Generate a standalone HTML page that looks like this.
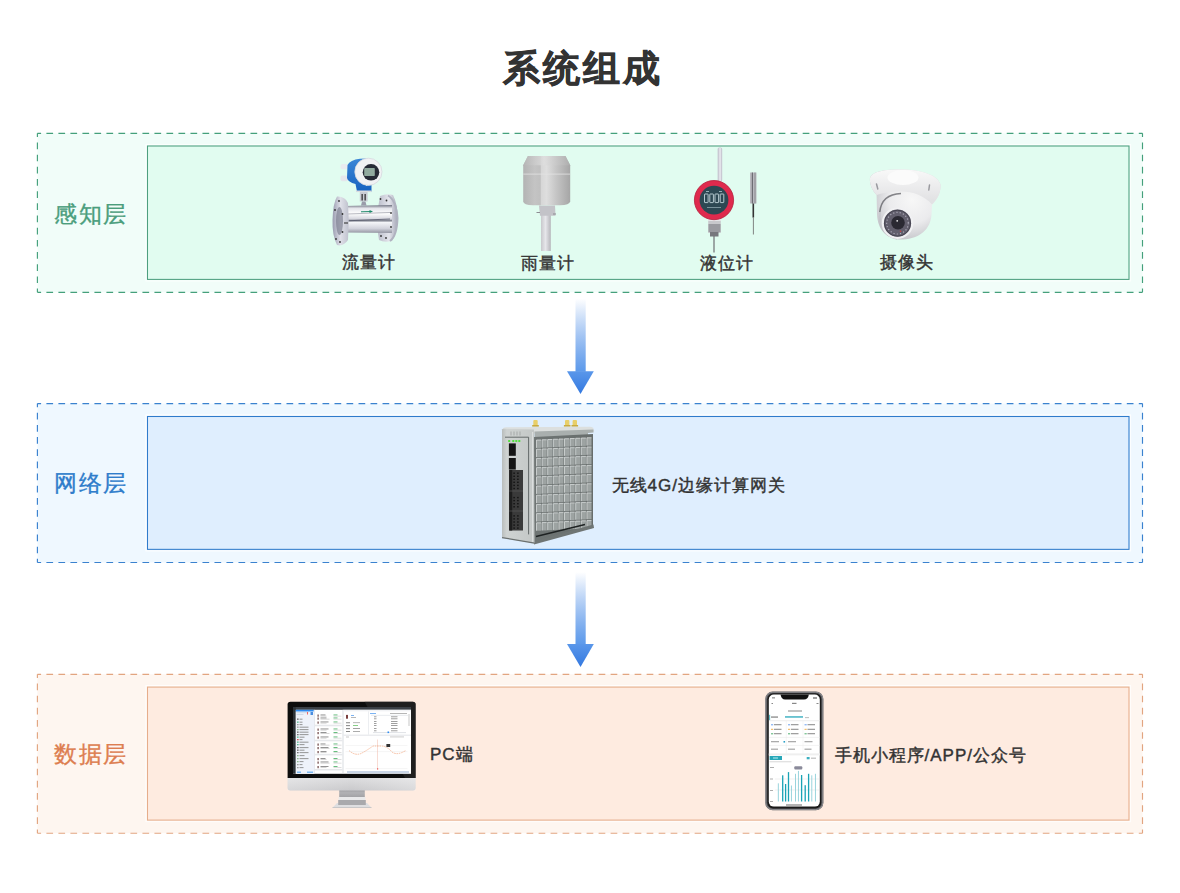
<!DOCTYPE html>
<html><head><meta charset="utf-8"><style>
html,body{margin:0;padding:0;background:#fff;}
body{width:1180px;height:893px;position:relative;overflow:hidden;font-family:"Liberation Sans",sans-serif;}
.t{position:absolute;white-space:nowrap;line-height:1;}
svg.bg{position:absolute;left:0;top:0;}
.lab{font-size:22.5px;letter-spacing:1.5px;}
.it{font-size:17px;letter-spacing:1px;color:#333;-webkit-text-stroke:0.42px #333;}
</style></head><body>
<svg class="bg" width="1180" height="893" viewBox="0 0 1180 893">
<rect x="37.4" y="133.3" width="1105.10" height="159.00" fill="#f1fdf9"/><path d="M37.40 133.30L41.10 133.30M46.40 133.30L53.10 133.30M58.41 133.30L65.11 133.30M70.41 133.30L77.11 133.30M82.42 133.30L89.12 133.30M94.42 133.30L101.12 133.30M106.43 133.30L113.13 133.30M118.43 133.30L125.13 133.30M130.43 133.30L137.13 133.30M142.44 133.30L149.14 133.30M154.44 133.30L161.14 133.30M166.45 133.30L173.15 133.30M178.45 133.30L185.15 133.30M190.46 133.30L197.16 133.30M202.46 133.30L209.16 133.30M214.47 133.30L221.17 133.30M226.47 133.30L233.17 133.30M238.47 133.30L245.17 133.30M250.48 133.30L257.18 133.30M262.48 133.30L269.18 133.30M274.49 133.30L281.19 133.30M286.49 133.30L293.19 133.30M298.50 133.30L305.20 133.30M310.50 133.30L317.20 133.30M322.50 133.30L329.20 133.30M334.51 133.30L341.21 133.30M346.51 133.30L353.21 133.30M358.52 133.30L365.22 133.30M370.52 133.30L377.22 133.30M382.53 133.30L389.23 133.30M394.53 133.30L401.23 133.30M406.53 133.30L413.23 133.30M418.54 133.30L425.24 133.30M430.54 133.30L437.24 133.30M442.55 133.30L449.25 133.30M454.55 133.30L461.25 133.30M466.56 133.30L473.26 133.30M478.56 133.30L485.26 133.30M490.57 133.30L497.27 133.30M502.57 133.30L509.27 133.30M514.57 133.30L521.27 133.30M526.58 133.30L533.28 133.30M538.58 133.30L545.28 133.30M550.59 133.30L557.29 133.30M562.59 133.30L569.29 133.30M574.60 133.30L581.30 133.30M586.60 133.30L593.30 133.30M598.60 133.30L605.30 133.30M610.61 133.30L617.31 133.30M622.61 133.30L629.31 133.30M634.62 133.30L641.32 133.30M646.62 133.30L653.32 133.30M658.63 133.30L665.33 133.30M670.63 133.30L677.33 133.30M682.63 133.30L689.33 133.30M694.64 133.30L701.34 133.30M706.64 133.30L713.34 133.30M718.65 133.30L725.35 133.30M730.65 133.30L737.35 133.30M742.66 133.30L749.36 133.30M754.66 133.30L761.36 133.30M766.67 133.30L773.37 133.30M778.67 133.30L785.37 133.30M790.67 133.30L797.37 133.30M802.68 133.30L809.38 133.30M814.68 133.30L821.38 133.30M826.69 133.30L833.39 133.30M838.69 133.30L845.39 133.30M850.70 133.30L857.40 133.30M862.70 133.30L869.40 133.30M874.70 133.30L881.40 133.30M886.71 133.30L893.41 133.30M898.71 133.30L905.41 133.30M910.72 133.30L917.42 133.30M922.72 133.30L929.42 133.30M934.73 133.30L941.43 133.30M946.73 133.30L953.43 133.30M958.73 133.30L965.43 133.30M970.74 133.30L977.44 133.30M982.74 133.30L989.44 133.30M994.75 133.30L1001.45 133.30M1006.75 133.30L1013.45 133.30M1018.76 133.30L1025.46 133.30M1030.76 133.30L1037.46 133.30M1042.77 133.30L1049.47 133.30M1054.77 133.30L1061.47 133.30M1066.77 133.30L1073.47 133.30M1078.78 133.30L1085.48 133.30M1090.78 133.30L1097.48 133.30M1102.79 133.30L1109.49 133.30M1114.79 133.30L1121.49 133.30M1126.80 133.30L1133.50 133.30M1138.80 133.30L1142.50 133.30M37.40 292.30L41.10 292.30M46.40 292.30L53.10 292.30M58.41 292.30L65.11 292.30M70.41 292.30L77.11 292.30M82.42 292.30L89.12 292.30M94.42 292.30L101.12 292.30M106.43 292.30L113.13 292.30M118.43 292.30L125.13 292.30M130.43 292.30L137.13 292.30M142.44 292.30L149.14 292.30M154.44 292.30L161.14 292.30M166.45 292.30L173.15 292.30M178.45 292.30L185.15 292.30M190.46 292.30L197.16 292.30M202.46 292.30L209.16 292.30M214.47 292.30L221.17 292.30M226.47 292.30L233.17 292.30M238.47 292.30L245.17 292.30M250.48 292.30L257.18 292.30M262.48 292.30L269.18 292.30M274.49 292.30L281.19 292.30M286.49 292.30L293.19 292.30M298.50 292.30L305.20 292.30M310.50 292.30L317.20 292.30M322.50 292.30L329.20 292.30M334.51 292.30L341.21 292.30M346.51 292.30L353.21 292.30M358.52 292.30L365.22 292.30M370.52 292.30L377.22 292.30M382.53 292.30L389.23 292.30M394.53 292.30L401.23 292.30M406.53 292.30L413.23 292.30M418.54 292.30L425.24 292.30M430.54 292.30L437.24 292.30M442.55 292.30L449.25 292.30M454.55 292.30L461.25 292.30M466.56 292.30L473.26 292.30M478.56 292.30L485.26 292.30M490.57 292.30L497.27 292.30M502.57 292.30L509.27 292.30M514.57 292.30L521.27 292.30M526.58 292.30L533.28 292.30M538.58 292.30L545.28 292.30M550.59 292.30L557.29 292.30M562.59 292.30L569.29 292.30M574.60 292.30L581.30 292.30M586.60 292.30L593.30 292.30M598.60 292.30L605.30 292.30M610.61 292.30L617.31 292.30M622.61 292.30L629.31 292.30M634.62 292.30L641.32 292.30M646.62 292.30L653.32 292.30M658.63 292.30L665.33 292.30M670.63 292.30L677.33 292.30M682.63 292.30L689.33 292.30M694.64 292.30L701.34 292.30M706.64 292.30L713.34 292.30M718.65 292.30L725.35 292.30M730.65 292.30L737.35 292.30M742.66 292.30L749.36 292.30M754.66 292.30L761.36 292.30M766.67 292.30L773.37 292.30M778.67 292.30L785.37 292.30M790.67 292.30L797.37 292.30M802.68 292.30L809.38 292.30M814.68 292.30L821.38 292.30M826.69 292.30L833.39 292.30M838.69 292.30L845.39 292.30M850.70 292.30L857.40 292.30M862.70 292.30L869.40 292.30M874.70 292.30L881.40 292.30M886.71 292.30L893.41 292.30M898.71 292.30L905.41 292.30M910.72 292.30L917.42 292.30M922.72 292.30L929.42 292.30M934.73 292.30L941.43 292.30M946.73 292.30L953.43 292.30M958.73 292.30L965.43 292.30M970.74 292.30L977.44 292.30M982.74 292.30L989.44 292.30M994.75 292.30L1001.45 292.30M1006.75 292.30L1013.45 292.30M1018.76 292.30L1025.46 292.30M1030.76 292.30L1037.46 292.30M1042.77 292.30L1049.47 292.30M1054.77 292.30L1061.47 292.30M1066.77 292.30L1073.47 292.30M1078.78 292.30L1085.48 292.30M1090.78 292.30L1097.48 292.30M1102.79 292.30L1109.49 292.30M1114.79 292.30L1121.49 292.30M1126.80 292.30L1133.50 292.30M1138.80 292.30L1142.50 292.30M37.40 133.30L37.40 137.00M37.40 142.48L37.40 149.18M37.40 154.65L37.40 161.35M37.40 166.83L37.40 173.53M37.40 179.01L37.40 185.71M37.40 191.18L37.40 197.88M37.40 203.36L37.40 210.06M37.40 215.54L37.40 222.24M37.40 227.72L37.40 234.42M37.40 239.89L37.40 246.59M37.40 252.07L37.40 258.77M37.40 264.25L37.40 270.95M37.40 276.42L37.40 283.12M37.40 288.60L37.40 292.30M1142.50 133.30L1142.50 137.00M1142.50 142.48L1142.50 149.18M1142.50 154.65L1142.50 161.35M1142.50 166.83L1142.50 173.53M1142.50 179.01L1142.50 185.71M1142.50 191.18L1142.50 197.88M1142.50 203.36L1142.50 210.06M1142.50 215.54L1142.50 222.24M1142.50 227.72L1142.50 234.42M1142.50 239.89L1142.50 246.59M1142.50 252.07L1142.50 258.77M1142.50 264.25L1142.50 270.95M1142.50 276.42L1142.50 283.12M1142.50 288.60L1142.50 292.30" stroke="#44a07b" stroke-width="1.15" fill="none"/><rect x="145.9" y="144.4" width="984.70" height="136.60" fill="none" stroke="#ffffff" stroke-opacity="0.75" stroke-width="1"/><rect x="147.5" y="146.0" width="981.50" height="133.40" fill="#e1fcf0" stroke="#4d9f7f" stroke-width="1.05"/><rect x="37.4" y="403.6" width="1105.10" height="158.90" fill="#eff8ff"/><path d="M37.40 403.60L41.10 403.60M46.40 403.60L53.10 403.60M58.41 403.60L65.11 403.60M70.41 403.60L77.11 403.60M82.42 403.60L89.12 403.60M94.42 403.60L101.12 403.60M106.43 403.60L113.13 403.60M118.43 403.60L125.13 403.60M130.43 403.60L137.13 403.60M142.44 403.60L149.14 403.60M154.44 403.60L161.14 403.60M166.45 403.60L173.15 403.60M178.45 403.60L185.15 403.60M190.46 403.60L197.16 403.60M202.46 403.60L209.16 403.60M214.47 403.60L221.17 403.60M226.47 403.60L233.17 403.60M238.47 403.60L245.17 403.60M250.48 403.60L257.18 403.60M262.48 403.60L269.18 403.60M274.49 403.60L281.19 403.60M286.49 403.60L293.19 403.60M298.50 403.60L305.20 403.60M310.50 403.60L317.20 403.60M322.50 403.60L329.20 403.60M334.51 403.60L341.21 403.60M346.51 403.60L353.21 403.60M358.52 403.60L365.22 403.60M370.52 403.60L377.22 403.60M382.53 403.60L389.23 403.60M394.53 403.60L401.23 403.60M406.53 403.60L413.23 403.60M418.54 403.60L425.24 403.60M430.54 403.60L437.24 403.60M442.55 403.60L449.25 403.60M454.55 403.60L461.25 403.60M466.56 403.60L473.26 403.60M478.56 403.60L485.26 403.60M490.57 403.60L497.27 403.60M502.57 403.60L509.27 403.60M514.57 403.60L521.27 403.60M526.58 403.60L533.28 403.60M538.58 403.60L545.28 403.60M550.59 403.60L557.29 403.60M562.59 403.60L569.29 403.60M574.60 403.60L581.30 403.60M586.60 403.60L593.30 403.60M598.60 403.60L605.30 403.60M610.61 403.60L617.31 403.60M622.61 403.60L629.31 403.60M634.62 403.60L641.32 403.60M646.62 403.60L653.32 403.60M658.63 403.60L665.33 403.60M670.63 403.60L677.33 403.60M682.63 403.60L689.33 403.60M694.64 403.60L701.34 403.60M706.64 403.60L713.34 403.60M718.65 403.60L725.35 403.60M730.65 403.60L737.35 403.60M742.66 403.60L749.36 403.60M754.66 403.60L761.36 403.60M766.67 403.60L773.37 403.60M778.67 403.60L785.37 403.60M790.67 403.60L797.37 403.60M802.68 403.60L809.38 403.60M814.68 403.60L821.38 403.60M826.69 403.60L833.39 403.60M838.69 403.60L845.39 403.60M850.70 403.60L857.40 403.60M862.70 403.60L869.40 403.60M874.70 403.60L881.40 403.60M886.71 403.60L893.41 403.60M898.71 403.60L905.41 403.60M910.72 403.60L917.42 403.60M922.72 403.60L929.42 403.60M934.73 403.60L941.43 403.60M946.73 403.60L953.43 403.60M958.73 403.60L965.43 403.60M970.74 403.60L977.44 403.60M982.74 403.60L989.44 403.60M994.75 403.60L1001.45 403.60M1006.75 403.60L1013.45 403.60M1018.76 403.60L1025.46 403.60M1030.76 403.60L1037.46 403.60M1042.77 403.60L1049.47 403.60M1054.77 403.60L1061.47 403.60M1066.77 403.60L1073.47 403.60M1078.78 403.60L1085.48 403.60M1090.78 403.60L1097.48 403.60M1102.79 403.60L1109.49 403.60M1114.79 403.60L1121.49 403.60M1126.80 403.60L1133.50 403.60M1138.80 403.60L1142.50 403.60M37.40 562.50L41.10 562.50M46.40 562.50L53.10 562.50M58.41 562.50L65.11 562.50M70.41 562.50L77.11 562.50M82.42 562.50L89.12 562.50M94.42 562.50L101.12 562.50M106.43 562.50L113.13 562.50M118.43 562.50L125.13 562.50M130.43 562.50L137.13 562.50M142.44 562.50L149.14 562.50M154.44 562.50L161.14 562.50M166.45 562.50L173.15 562.50M178.45 562.50L185.15 562.50M190.46 562.50L197.16 562.50M202.46 562.50L209.16 562.50M214.47 562.50L221.17 562.50M226.47 562.50L233.17 562.50M238.47 562.50L245.17 562.50M250.48 562.50L257.18 562.50M262.48 562.50L269.18 562.50M274.49 562.50L281.19 562.50M286.49 562.50L293.19 562.50M298.50 562.50L305.20 562.50M310.50 562.50L317.20 562.50M322.50 562.50L329.20 562.50M334.51 562.50L341.21 562.50M346.51 562.50L353.21 562.50M358.52 562.50L365.22 562.50M370.52 562.50L377.22 562.50M382.53 562.50L389.23 562.50M394.53 562.50L401.23 562.50M406.53 562.50L413.23 562.50M418.54 562.50L425.24 562.50M430.54 562.50L437.24 562.50M442.55 562.50L449.25 562.50M454.55 562.50L461.25 562.50M466.56 562.50L473.26 562.50M478.56 562.50L485.26 562.50M490.57 562.50L497.27 562.50M502.57 562.50L509.27 562.50M514.57 562.50L521.27 562.50M526.58 562.50L533.28 562.50M538.58 562.50L545.28 562.50M550.59 562.50L557.29 562.50M562.59 562.50L569.29 562.50M574.60 562.50L581.30 562.50M586.60 562.50L593.30 562.50M598.60 562.50L605.30 562.50M610.61 562.50L617.31 562.50M622.61 562.50L629.31 562.50M634.62 562.50L641.32 562.50M646.62 562.50L653.32 562.50M658.63 562.50L665.33 562.50M670.63 562.50L677.33 562.50M682.63 562.50L689.33 562.50M694.64 562.50L701.34 562.50M706.64 562.50L713.34 562.50M718.65 562.50L725.35 562.50M730.65 562.50L737.35 562.50M742.66 562.50L749.36 562.50M754.66 562.50L761.36 562.50M766.67 562.50L773.37 562.50M778.67 562.50L785.37 562.50M790.67 562.50L797.37 562.50M802.68 562.50L809.38 562.50M814.68 562.50L821.38 562.50M826.69 562.50L833.39 562.50M838.69 562.50L845.39 562.50M850.70 562.50L857.40 562.50M862.70 562.50L869.40 562.50M874.70 562.50L881.40 562.50M886.71 562.50L893.41 562.50M898.71 562.50L905.41 562.50M910.72 562.50L917.42 562.50M922.72 562.50L929.42 562.50M934.73 562.50L941.43 562.50M946.73 562.50L953.43 562.50M958.73 562.50L965.43 562.50M970.74 562.50L977.44 562.50M982.74 562.50L989.44 562.50M994.75 562.50L1001.45 562.50M1006.75 562.50L1013.45 562.50M1018.76 562.50L1025.46 562.50M1030.76 562.50L1037.46 562.50M1042.77 562.50L1049.47 562.50M1054.77 562.50L1061.47 562.50M1066.77 562.50L1073.47 562.50M1078.78 562.50L1085.48 562.50M1090.78 562.50L1097.48 562.50M1102.79 562.50L1109.49 562.50M1114.79 562.50L1121.49 562.50M1126.80 562.50L1133.50 562.50M1138.80 562.50L1142.50 562.50M37.40 403.60L37.40 407.30M37.40 412.77L37.40 419.47M37.40 424.94L37.40 431.64M37.40 437.11L37.40 443.81M37.40 449.28L37.40 455.98M37.40 461.45L37.40 468.15M37.40 473.62L37.40 480.32M37.40 485.78L37.40 492.48M37.40 497.95L37.40 504.65M37.40 510.12L37.40 516.82M37.40 522.29L37.40 528.99M37.40 534.46L37.40 541.16M37.40 546.63L37.40 553.33M37.40 558.80L37.40 562.50M1142.50 403.60L1142.50 407.30M1142.50 412.77L1142.50 419.47M1142.50 424.94L1142.50 431.64M1142.50 437.11L1142.50 443.81M1142.50 449.28L1142.50 455.98M1142.50 461.45L1142.50 468.15M1142.50 473.62L1142.50 480.32M1142.50 485.78L1142.50 492.48M1142.50 497.95L1142.50 504.65M1142.50 510.12L1142.50 516.82M1142.50 522.29L1142.50 528.99M1142.50 534.46L1142.50 541.16M1142.50 546.63L1142.50 553.33M1142.50 558.80L1142.50 562.50" stroke="#3a82cf" stroke-width="1.15" fill="none"/><rect x="145.9" y="414.9" width="984.70" height="136.05" fill="none" stroke="#ffffff" stroke-opacity="0.9" stroke-width="1"/><rect x="147.5" y="416.5" width="981.50" height="132.85" fill="#dfeefe" stroke="#2f7bcb" stroke-width="1.05"/><rect x="37.4" y="674.3" width="1105.10" height="158.90" fill="#fef6f0"/><path d="M37.40 674.30L41.10 674.30M46.40 674.30L53.10 674.30M58.41 674.30L65.11 674.30M70.41 674.30L77.11 674.30M82.42 674.30L89.12 674.30M94.42 674.30L101.12 674.30M106.43 674.30L113.13 674.30M118.43 674.30L125.13 674.30M130.43 674.30L137.13 674.30M142.44 674.30L149.14 674.30M154.44 674.30L161.14 674.30M166.45 674.30L173.15 674.30M178.45 674.30L185.15 674.30M190.46 674.30L197.16 674.30M202.46 674.30L209.16 674.30M214.47 674.30L221.17 674.30M226.47 674.30L233.17 674.30M238.47 674.30L245.17 674.30M250.48 674.30L257.18 674.30M262.48 674.30L269.18 674.30M274.49 674.30L281.19 674.30M286.49 674.30L293.19 674.30M298.50 674.30L305.20 674.30M310.50 674.30L317.20 674.30M322.50 674.30L329.20 674.30M334.51 674.30L341.21 674.30M346.51 674.30L353.21 674.30M358.52 674.30L365.22 674.30M370.52 674.30L377.22 674.30M382.53 674.30L389.23 674.30M394.53 674.30L401.23 674.30M406.53 674.30L413.23 674.30M418.54 674.30L425.24 674.30M430.54 674.30L437.24 674.30M442.55 674.30L449.25 674.30M454.55 674.30L461.25 674.30M466.56 674.30L473.26 674.30M478.56 674.30L485.26 674.30M490.57 674.30L497.27 674.30M502.57 674.30L509.27 674.30M514.57 674.30L521.27 674.30M526.58 674.30L533.28 674.30M538.58 674.30L545.28 674.30M550.59 674.30L557.29 674.30M562.59 674.30L569.29 674.30M574.60 674.30L581.30 674.30M586.60 674.30L593.30 674.30M598.60 674.30L605.30 674.30M610.61 674.30L617.31 674.30M622.61 674.30L629.31 674.30M634.62 674.30L641.32 674.30M646.62 674.30L653.32 674.30M658.63 674.30L665.33 674.30M670.63 674.30L677.33 674.30M682.63 674.30L689.33 674.30M694.64 674.30L701.34 674.30M706.64 674.30L713.34 674.30M718.65 674.30L725.35 674.30M730.65 674.30L737.35 674.30M742.66 674.30L749.36 674.30M754.66 674.30L761.36 674.30M766.67 674.30L773.37 674.30M778.67 674.30L785.37 674.30M790.67 674.30L797.37 674.30M802.68 674.30L809.38 674.30M814.68 674.30L821.38 674.30M826.69 674.30L833.39 674.30M838.69 674.30L845.39 674.30M850.70 674.30L857.40 674.30M862.70 674.30L869.40 674.30M874.70 674.30L881.40 674.30M886.71 674.30L893.41 674.30M898.71 674.30L905.41 674.30M910.72 674.30L917.42 674.30M922.72 674.30L929.42 674.30M934.73 674.30L941.43 674.30M946.73 674.30L953.43 674.30M958.73 674.30L965.43 674.30M970.74 674.30L977.44 674.30M982.74 674.30L989.44 674.30M994.75 674.30L1001.45 674.30M1006.75 674.30L1013.45 674.30M1018.76 674.30L1025.46 674.30M1030.76 674.30L1037.46 674.30M1042.77 674.30L1049.47 674.30M1054.77 674.30L1061.47 674.30M1066.77 674.30L1073.47 674.30M1078.78 674.30L1085.48 674.30M1090.78 674.30L1097.48 674.30M1102.79 674.30L1109.49 674.30M1114.79 674.30L1121.49 674.30M1126.80 674.30L1133.50 674.30M1138.80 674.30L1142.50 674.30M37.40 833.20L41.10 833.20M46.40 833.20L53.10 833.20M58.41 833.20L65.11 833.20M70.41 833.20L77.11 833.20M82.42 833.20L89.12 833.20M94.42 833.20L101.12 833.20M106.43 833.20L113.13 833.20M118.43 833.20L125.13 833.20M130.43 833.20L137.13 833.20M142.44 833.20L149.14 833.20M154.44 833.20L161.14 833.20M166.45 833.20L173.15 833.20M178.45 833.20L185.15 833.20M190.46 833.20L197.16 833.20M202.46 833.20L209.16 833.20M214.47 833.20L221.17 833.20M226.47 833.20L233.17 833.20M238.47 833.20L245.17 833.20M250.48 833.20L257.18 833.20M262.48 833.20L269.18 833.20M274.49 833.20L281.19 833.20M286.49 833.20L293.19 833.20M298.50 833.20L305.20 833.20M310.50 833.20L317.20 833.20M322.50 833.20L329.20 833.20M334.51 833.20L341.21 833.20M346.51 833.20L353.21 833.20M358.52 833.20L365.22 833.20M370.52 833.20L377.22 833.20M382.53 833.20L389.23 833.20M394.53 833.20L401.23 833.20M406.53 833.20L413.23 833.20M418.54 833.20L425.24 833.20M430.54 833.20L437.24 833.20M442.55 833.20L449.25 833.20M454.55 833.20L461.25 833.20M466.56 833.20L473.26 833.20M478.56 833.20L485.26 833.20M490.57 833.20L497.27 833.20M502.57 833.20L509.27 833.20M514.57 833.20L521.27 833.20M526.58 833.20L533.28 833.20M538.58 833.20L545.28 833.20M550.59 833.20L557.29 833.20M562.59 833.20L569.29 833.20M574.60 833.20L581.30 833.20M586.60 833.20L593.30 833.20M598.60 833.20L605.30 833.20M610.61 833.20L617.31 833.20M622.61 833.20L629.31 833.20M634.62 833.20L641.32 833.20M646.62 833.20L653.32 833.20M658.63 833.20L665.33 833.20M670.63 833.20L677.33 833.20M682.63 833.20L689.33 833.20M694.64 833.20L701.34 833.20M706.64 833.20L713.34 833.20M718.65 833.20L725.35 833.20M730.65 833.20L737.35 833.20M742.66 833.20L749.36 833.20M754.66 833.20L761.36 833.20M766.67 833.20L773.37 833.20M778.67 833.20L785.37 833.20M790.67 833.20L797.37 833.20M802.68 833.20L809.38 833.20M814.68 833.20L821.38 833.20M826.69 833.20L833.39 833.20M838.69 833.20L845.39 833.20M850.70 833.20L857.40 833.20M862.70 833.20L869.40 833.20M874.70 833.20L881.40 833.20M886.71 833.20L893.41 833.20M898.71 833.20L905.41 833.20M910.72 833.20L917.42 833.20M922.72 833.20L929.42 833.20M934.73 833.20L941.43 833.20M946.73 833.20L953.43 833.20M958.73 833.20L965.43 833.20M970.74 833.20L977.44 833.20M982.74 833.20L989.44 833.20M994.75 833.20L1001.45 833.20M1006.75 833.20L1013.45 833.20M1018.76 833.20L1025.46 833.20M1030.76 833.20L1037.46 833.20M1042.77 833.20L1049.47 833.20M1054.77 833.20L1061.47 833.20M1066.77 833.20L1073.47 833.20M1078.78 833.20L1085.48 833.20M1090.78 833.20L1097.48 833.20M1102.79 833.20L1109.49 833.20M1114.79 833.20L1121.49 833.20M1126.80 833.20L1133.50 833.20M1138.80 833.20L1142.50 833.20M37.40 674.30L37.40 678.00M37.40 683.47L37.40 690.17M37.40 695.64L37.40 702.34M37.40 707.81L37.40 714.51M37.40 719.98L37.40 726.68M37.40 732.15L37.40 738.85M37.40 744.32L37.40 751.02M37.40 756.48L37.40 763.18M37.40 768.65L37.40 775.35M37.40 780.82L37.40 787.52M37.40 792.99L37.40 799.69M37.40 805.16L37.40 811.86M37.40 817.33L37.40 824.03M37.40 829.50L37.40 833.20M1142.50 674.30L1142.50 678.00M1142.50 683.47L1142.50 690.17M1142.50 695.64L1142.50 702.34M1142.50 707.81L1142.50 714.51M1142.50 719.98L1142.50 726.68M1142.50 732.15L1142.50 738.85M1142.50 744.32L1142.50 751.02M1142.50 756.48L1142.50 763.18M1142.50 768.65L1142.50 775.35M1142.50 780.82L1142.50 787.52M1142.50 792.99L1142.50 799.69M1142.50 805.16L1142.50 811.86M1142.50 817.33L1142.50 824.03M1142.50 829.50L1142.50 833.20" stroke="#e2a580" stroke-width="1.15" fill="none"/><rect x="145.9" y="685.5" width="984.70" height="136.20" fill="none" stroke="#ffffff" stroke-opacity="0.8" stroke-width="1"/><rect x="147.5" y="687.1" width="981.50" height="133.00" fill="#feebe0" stroke="#e6ad8b" stroke-width="1.05"/><rect x="575.5" y="298.6" width="10.2" height="73.2" fill="url(#ag298)"/><path d="M567 371.3 L593.8 371.3 L580.5 394.1 Z" fill="url(#ah298)"/><defs><linearGradient id="ag298" x1="0" y1="298.6" x2="0" y2="371.3" gradientUnits="userSpaceOnUse"><stop offset="0" stop-color="#3a80e4" stop-opacity="0"/><stop offset="1" stop-color="#5d9aeb"/></linearGradient><linearGradient id="ah298" x1="0" y1="371.3" x2="0" y2="394.1" gradientUnits="userSpaceOnUse"><stop offset="0" stop-color="#5a97ea"/><stop offset="1" stop-color="#3479e0"/></linearGradient></defs><rect x="575.5" y="572.1" width="10.2" height="72.4" fill="url(#ag572)"/><path d="M567 644.0 L593.8 644.0 L580.5 667.0 Z" fill="url(#ah572)"/><defs><linearGradient id="ag572" x1="0" y1="572.1" x2="0" y2="644.0" gradientUnits="userSpaceOnUse"><stop offset="0" stop-color="#3a80e4" stop-opacity="0"/><stop offset="1" stop-color="#5d9aeb"/></linearGradient><linearGradient id="ah572" x1="0" y1="644.0" x2="0" y2="667.0" gradientUnits="userSpaceOnUse"><stop offset="0" stop-color="#5a97ea"/><stop offset="1" stop-color="#3479e0"/></linearGradient></defs>
<defs>
<linearGradient id="fmPipe" x1="0" y1="205.5" x2="0" y2="232.5" gradientUnits="userSpaceOnUse">
 <stop offset="0" stop-color="#7e818e"/><stop offset="0.1" stop-color="#e3e4ea"/><stop offset="0.3" stop-color="#ffffff"/><stop offset="0.5" stop-color="#d5d6de"/><stop offset="0.56" stop-color="#80838f"/><stop offset="0.63" stop-color="#f4f5f8"/><stop offset="0.85" stop-color="#d2d3dc"/><stop offset="1" stop-color="#9a9ca8"/>
</linearGradient>
<linearGradient id="fmFl" x1="333" y1="0" x2="348" y2="0" gradientUnits="userSpaceOnUse">
 <stop offset="0" stop-color="#9ea0b3"/><stop offset="0.5" stop-color="#dfe0e8"/><stop offset="1" stop-color="#c2c4d0"/>
</linearGradient>
<linearGradient id="fmFr" x1="377" y1="0" x2="397" y2="0" gradientUnits="userSpaceOnUse">
 <stop offset="0" stop-color="#b8bac8"/><stop offset="0.6" stop-color="#e4e5ec"/><stop offset="1" stop-color="#a9abba"/>
</linearGradient>
<linearGradient id="fmBlue" x1="0" y1="159" x2="0" y2="192" gradientUnits="userSpaceOnUse">
 <stop offset="0" stop-color="#3b86d6"/><stop offset="1" stop-color="#1662c0"/>
</linearGradient>
</defs><path d="M380 196 Q387 193 393 195 Q398 205 397.5 218 Q397 234 392 241 Q384 243 379 240 Q375 220 380 196Z" fill="url(#fmFr)"/><path d="M344 206 L392 205 L392 233 L344 232.5 Z" fill="url(#fmPipe)"/><path d="M347 220.8 L390 219" stroke="#55586a" stroke-width="1" opacity="0.8"/><path d="M347 214 L390 212.5" stroke="#6d7080" stroke-width="0.8" opacity="0.6"/><path d="M388 195.5 Q396 200 397.5 218 Q397 236 390 241" stroke="#b0b2c0" stroke-width="2" fill="none"/><circle cx="380.5" cy="199" r="0.9" fill="#333"/><circle cx="386.5" cy="200.5" r="0.9" fill="#333"/><circle cx="391" cy="213" r="0.9" fill="#333"/><circle cx="391" cy="227" r="0.9" fill="#333"/><circle cx="381" cy="236" r="0.9" fill="#333"/><circle cx="386" cy="238" r="0.9" fill="#333"/><path d="M337 196.5 Q345 196 348 203 Q349.5 221 348 240 Q343 247 337 245 Q332 235 332.5 220 Q333 203 337 196.5Z" fill="url(#fmFl)"/><ellipse cx="339.5" cy="221" rx="3.5" ry="14" fill="#7d8092" opacity="0.7"/><circle cx="339" cy="201" r="0.9" fill="#333"/><circle cx="335" cy="210" r="0.9" fill="#333"/><circle cx="342.5" cy="214" r="0.9" fill="#333"/><circle cx="342.5" cy="232" r="0.9" fill="#333"/><circle cx="336" cy="239" r="0.9" fill="#333"/><circle cx="340" cy="242" r="0.9" fill="#333"/><path d="M344 223 L348 223" stroke="#444" stroke-width="1.2"/><path d="M361 211.8 L372 211.5" stroke="#1f8a6a" stroke-width="1"/><path d="M369.5 210 L373 211.5 L369.5 213 Z" fill="#1f8a6a"/><rect x="359.8" y="191.5" width="7.8" height="10" fill="#c9cbd3"/><rect x="361.5" y="194" width="1.3" height="6.5" fill="#333"/><rect x="364.5" y="194" width="1.3" height="6.5" fill="#333"/><path d="M362 201.5 L365.5 201.5 L366.5 205.5 L361 205.5Z" fill="#9a9caa"/><rect x="340.5" y="164" width="7.5" height="5.3" rx="2" fill="#e9ebef"/><rect x="340.5" y="175.5" width="7.5" height="5.8" rx="2" fill="#e5e7eb"/><path d="M347.5 165 Q350 160 360 158.8 L366 158.5 L366 186 L371.5 183 L371.5 191.5 L357 191.5 L355.5 184 Q348 182 347 178Z" fill="url(#fmBlue)"/><rect x="356" y="190.5" width="15.5" height="1.6" fill="#d9dbe0"/><circle cx="368.4" cy="171.8" r="13.6" fill="#f1f2f4"/><circle cx="368.4" cy="171.8" r="13.6" fill="none" stroke="#d6d8de" stroke-width="0.8"/><circle cx="371" cy="172.3" r="8.3" fill="#262a36"/><rect x="364.2" y="168" width="10.6" height="8" rx="0.8" fill="#91aa9f"/><defs>
<linearGradient id="rgBody" x1="523" y1="0" x2="570" y2="0" gradientUnits="userSpaceOnUse">
 <stop offset="0" stop-color="#b3b3b3"/><stop offset="0.25" stop-color="#c4c4c4"/><stop offset="0.37" stop-color="#c0c0c0"/><stop offset="0.38" stop-color="#d6d6d6"/><stop offset="0.5" stop-color="#dedede"/><stop offset="0.7" stop-color="#c6c6c6"/><stop offset="1" stop-color="#a6a6a6"/>
</linearGradient>
<linearGradient id="rgTop" x1="523" y1="0" x2="570" y2="0" gradientUnits="userSpaceOnUse">
 <stop offset="0" stop-color="#b5b5b5"/><stop offset="0.45" stop-color="#dedede"/><stop offset="1" stop-color="#b0b0b0"/>
</linearGradient>
<linearGradient id="rgPole" x1="541" y1="0" x2="551" y2="0" gradientUnits="userSpaceOnUse">
 <stop offset="0" stop-color="#c8c8cc"/><stop offset="0.45" stop-color="#e6e6ea"/><stop offset="1" stop-color="#b4b4b9"/>
</linearGradient>
</defs><rect x="541" y="214" width="9.8" height="37" fill="url(#rgPole)"/><path d="M539 205.5 L555 205.5 L555.5 215.8 L540 215.8Z" fill="#c3c3c8"/><path d="M536.5 212.5 L540 212.5 M553 214 L556 214" stroke="#8d8d93" stroke-width="1"/><path d="M527.9 155.9 L565.5 155.9 L570.2 165.3 L570.2 201.5 Q569.5 205 560 205.3 L533 205.3 Q523.5 205 523.2 201.5 L523.2 165.3Z" fill="url(#rgBody)"/><path d="M527.9 155.9 L565.5 155.9 L570.2 165.3 L523.2 165.3Z" fill="url(#rgTop)" opacity="0.8"/><path d="M523.2 174.1 L570.2 174.1" stroke="#e3e3e3" stroke-width="0.8"/><rect x="717.6" y="147.6" width="4.6" height="34" rx="1.5" fill="#c9c9d3"/><rect x="719.3" y="148" width="1.5" height="33" fill="#e8e8ee"/><path d="M708.2 218 L720.8 218 L720.8 233 L708.2 233Z" fill="#c8c8cc"/><rect x="708" y="218" width="13" height="3" fill="#e5e5e8"/><rect x="708.5" y="224" width="12" height="8" fill="#9a9aa0"/><rect x="710" y="232" width="8.5" height="4.5" fill="#77777d"/><rect x="713.4" y="236" width="1.2" height="16.5" fill="#6f6f75"/><circle cx="714" cy="200.1" r="19.6" fill="#df2a4d"/><circle cx="714" cy="200.1" r="19.6" fill="none" stroke="#b51d3a" stroke-width="0.8"/><circle cx="714" cy="200.1" r="14.4" fill="#2d4853"/><rect x="704.5" y="194" width="3.6" height="8.6" rx="0.5" fill="none" stroke="#d5e8ee" stroke-width="0.8"/><rect x="709.8" y="194" width="3.6" height="8.6" rx="0.5" fill="none" stroke="#d5e8ee" stroke-width="0.8"/><rect x="715" y="194" width="3.6" height="8.6" rx="0.5" fill="none" stroke="#d5e8ee" stroke-width="0.8"/><rect x="720.2" y="194" width="3.6" height="8.6" rx="0.5" fill="none" stroke="#d5e8ee" stroke-width="0.8"/><rect x="706" y="191" width="3" height="1" fill="#c5dce3" opacity="0.7"/><rect x="719" y="191" width="3" height="1" fill="#c5dce3" opacity="0.7"/><rect x="707" y="207" width="14" height="1" fill="#c5dce3" opacity="0.5"/><rect x="750" y="172.5" width="6.5" height="31" fill="#b9b9bf"/><rect x="751.8" y="172.5" width="1.2" height="31" fill="#6d6d73"/><rect x="754.5" y="172.5" width="1" height="31" fill="#8b8b90"/><rect x="752.5" y="203.5" width="1.6" height="14" fill="#333"/><rect x="752.9" y="217" width="0.9" height="17.5" fill="#777"/><defs>
<radialGradient id="camBody" cx="912" cy="200" r="42" gradientUnits="userSpaceOnUse">
 <stop offset="0" stop-color="#f7f7f7"/><stop offset="0.55" stop-color="#ebebed"/><stop offset="1" stop-color="#c4c4c9"/>
</radialGradient>
<linearGradient id="camTopG" x1="0" y1="169" x2="0" y2="200" gradientUnits="userSpaceOnUse">
 <stop offset="0" stop-color="#f9f9f9"/><stop offset="1" stop-color="#e2e2e4"/>
</linearGradient>
</defs><path d="M869.9 178.4 C872 171 885 169.5 901 169.5 C921 169.5 938 175 940.5 184.5 C941.2 192 937 200 932 204.5 L931.5 214 C931 229 920 238.5 903 239.6 C887 240 877.5 230 877 214 L876.6 195 C872.5 190.5 869.6 184.5 869.9 178.4 Z" fill="url(#camBody)"/><path d="M869.9 178.4 C872 171 885 169.5 901 169.5 C921 169.5 938 175 940.5 184.5 C941.2 192 937 200 932 204.5 C925 196 913 191.5 901 191.5 C890 191.5 881 193.5 876.6 195 C872.5 190.5 869.6 184.5 869.9 178.4 Z" fill="url(#camTopG)"/><ellipse cx="903" cy="177.5" rx="15.5" ry="7.5" fill="#fbfbfb"/><path d="M876.5 184 L877.8 189 M929.5 185 L928.8 190" stroke="#9a9a9f" stroke-width="1.5" stroke-linecap="round"/><path d="M879.8 212 C881 200 889 194 901 193.5" stroke="#4a4a50" stroke-width="1.5" fill="none" opacity="0.65"/><path d="M880 212 C878.5 225 884 236 897 239" stroke="#c0c0c5" stroke-width="2" fill="none" opacity="0.5"/><circle cx="897.5" cy="223.2" r="15.8" fill="#f1f1f3"/><circle cx="897.5" cy="223.2" r="13.6" fill="#625f6d"/><circle cx="897.5" cy="223.2" r="10.8" fill="none" stroke="#b4b2c0" stroke-width="1.2" stroke-dasharray="1.1 2.2" opacity="0.9"/><circle cx="897.5" cy="223.2" r="13" fill="none" stroke="#3e3c47" stroke-width="0.8"/><circle cx="898" cy="222.8" r="6.8" fill="#2a2932"/><circle cx="897.2" cy="220.8" r="0.9" fill="#e8e8e8"/><circle cx="900.5" cy="231.3" r="0.8" fill="#d04040"/><defs>
<linearGradient id="gwFront" x1="502" y1="0" x2="534" y2="0" gradientUnits="userSpaceOnUse">
 <stop offset="0" stop-color="#b9bdbc"/><stop offset="0.15" stop-color="#cfd3d2"/><stop offset="1" stop-color="#c3c7c6"/>
</linearGradient>
<linearGradient id="gwSide" x1="534" y1="0" x2="594" y2="0" gradientUnits="userSpaceOnUse">
 <stop offset="0" stop-color="#6f7574"/><stop offset="1" stop-color="#676d6c"/>
</linearGradient>
</defs><rect x="533.3" y="420" width="4.4" height="6" rx="1" fill="#e8cf6a"/><rect x="532.2" y="425" width="6.6" height="1.6" fill="#c9ab40"/><rect x="565.0" y="420" width="4.4" height="6" rx="1" fill="#e8cf6a"/><rect x="563.9000000000001" y="425" width="6.6" height="1.6" fill="#c9ab40"/><rect x="572.5999999999999" y="420" width="4.4" height="6" rx="1" fill="#e8cf6a"/><rect x="571.5" y="425" width="6.6" height="1.6" fill="#c9ab40"/><path d="M502.5 429 Q503 427.5 506 427.3 L590 426.8 Q593.5 427 593.5 429 L593.5 431.5 L534.5 433.5 L502.5 432Z" fill="#dcdfde"/><path d="M534.5 431.5 L593.5 429.5 L593.5 432.5 L588 433 L588 437.5 L534.5 439.5Z" fill="#a9afae"/><path d="M534 437 L593 434 L593 526.5 L534 543.5Z" fill="url(#gwSide)"/><rect x="536.50" y="440.00" width="4.60" height="7.90" fill="#9da3a2"/><rect x="542.10" y="439.75" width="4.60" height="7.90" fill="#9da3a2"/><rect x="547.70" y="439.50" width="4.60" height="7.90" fill="#9da3a2"/><rect x="553.30" y="439.25" width="4.60" height="7.90" fill="#9da3a2"/><rect x="558.90" y="439.00" width="4.60" height="7.90" fill="#9da3a2"/><rect x="564.50" y="438.75" width="4.60" height="7.90" fill="#9da3a2"/><rect x="570.10" y="438.50" width="4.60" height="7.90" fill="#9da3a2"/><rect x="575.70" y="438.25" width="4.60" height="7.90" fill="#9da3a2"/><rect x="581.30" y="438.00" width="4.60" height="7.90" fill="#9da3a2"/><rect x="586.90" y="437.75" width="4.60" height="7.90" fill="#9da3a2"/><rect x="536.50" y="449.20" width="4.60" height="7.90" fill="#9da3a2"/><rect x="542.10" y="448.95" width="4.60" height="7.90" fill="#9da3a2"/><rect x="547.70" y="448.70" width="4.60" height="7.90" fill="#9da3a2"/><rect x="553.30" y="448.45" width="4.60" height="7.90" fill="#9da3a2"/><rect x="558.90" y="448.20" width="4.60" height="7.90" fill="#9da3a2"/><rect x="564.50" y="447.95" width="4.60" height="7.90" fill="#9da3a2"/><rect x="570.10" y="447.70" width="4.60" height="7.90" fill="#9da3a2"/><rect x="575.70" y="447.45" width="4.60" height="7.90" fill="#9da3a2"/><rect x="581.30" y="447.20" width="4.60" height="7.90" fill="#9da3a2"/><rect x="586.90" y="446.95" width="4.60" height="7.90" fill="#9da3a2"/><rect x="536.50" y="458.40" width="4.60" height="7.90" fill="#9da3a2"/><rect x="542.10" y="458.15" width="4.60" height="7.90" fill="#9da3a2"/><rect x="547.70" y="457.90" width="4.60" height="7.90" fill="#9da3a2"/><rect x="553.30" y="457.65" width="4.60" height="7.90" fill="#9da3a2"/><rect x="558.90" y="457.40" width="4.60" height="7.90" fill="#9da3a2"/><rect x="564.50" y="457.15" width="4.60" height="7.90" fill="#9da3a2"/><rect x="570.10" y="456.90" width="4.60" height="7.90" fill="#9da3a2"/><rect x="575.70" y="456.65" width="4.60" height="7.90" fill="#9da3a2"/><rect x="581.30" y="456.40" width="4.60" height="7.90" fill="#9da3a2"/><rect x="586.90" y="456.15" width="4.60" height="7.90" fill="#9da3a2"/><rect x="536.50" y="467.60" width="4.60" height="7.90" fill="#9da3a2"/><rect x="542.10" y="467.35" width="4.60" height="7.90" fill="#9da3a2"/><rect x="547.70" y="467.10" width="4.60" height="7.90" fill="#9da3a2"/><rect x="553.30" y="466.85" width="4.60" height="7.90" fill="#9da3a2"/><rect x="558.90" y="466.60" width="4.60" height="7.90" fill="#9da3a2"/><rect x="564.50" y="466.35" width="4.60" height="7.90" fill="#9da3a2"/><rect x="570.10" y="466.10" width="4.60" height="7.90" fill="#9da3a2"/><rect x="575.70" y="465.85" width="4.60" height="7.90" fill="#9da3a2"/><rect x="581.30" y="465.60" width="4.60" height="7.90" fill="#9da3a2"/><rect x="586.90" y="465.35" width="4.60" height="7.90" fill="#9da3a2"/><rect x="536.50" y="476.80" width="4.60" height="7.90" fill="#9da3a2"/><rect x="542.10" y="476.55" width="4.60" height="7.90" fill="#9da3a2"/><rect x="547.70" y="476.30" width="4.60" height="7.90" fill="#9da3a2"/><rect x="553.30" y="476.05" width="4.60" height="7.90" fill="#9da3a2"/><rect x="558.90" y="475.80" width="4.60" height="7.90" fill="#9da3a2"/><rect x="564.50" y="475.55" width="4.60" height="7.90" fill="#9da3a2"/><rect x="570.10" y="475.30" width="4.60" height="7.90" fill="#9da3a2"/><rect x="575.70" y="475.05" width="4.60" height="7.90" fill="#9da3a2"/><rect x="581.30" y="474.80" width="4.60" height="7.90" fill="#9da3a2"/><rect x="586.90" y="474.55" width="4.60" height="7.90" fill="#9da3a2"/><rect x="536.50" y="486.00" width="4.60" height="7.90" fill="#9da3a2"/><rect x="542.10" y="485.75" width="4.60" height="7.90" fill="#9da3a2"/><rect x="547.70" y="485.50" width="4.60" height="7.90" fill="#9da3a2"/><rect x="553.30" y="485.25" width="4.60" height="7.90" fill="#9da3a2"/><rect x="558.90" y="485.00" width="4.60" height="7.90" fill="#9da3a2"/><rect x="564.50" y="484.75" width="4.60" height="7.90" fill="#9da3a2"/><rect x="570.10" y="484.50" width="4.60" height="7.90" fill="#9da3a2"/><rect x="575.70" y="484.25" width="4.60" height="7.90" fill="#9da3a2"/><rect x="581.30" y="484.00" width="4.60" height="7.90" fill="#9da3a2"/><rect x="586.90" y="483.75" width="4.60" height="7.90" fill="#9da3a2"/><rect x="536.50" y="495.20" width="4.60" height="7.90" fill="#9da3a2"/><rect x="542.10" y="494.95" width="4.60" height="7.90" fill="#9da3a2"/><rect x="547.70" y="494.70" width="4.60" height="7.90" fill="#9da3a2"/><rect x="553.30" y="494.45" width="4.60" height="7.90" fill="#9da3a2"/><rect x="558.90" y="494.20" width="4.60" height="7.90" fill="#9da3a2"/><rect x="564.50" y="493.95" width="4.60" height="7.90" fill="#9da3a2"/><rect x="570.10" y="493.70" width="4.60" height="7.90" fill="#9da3a2"/><rect x="575.70" y="493.45" width="4.60" height="7.90" fill="#9da3a2"/><rect x="581.30" y="493.20" width="4.60" height="7.90" fill="#9da3a2"/><rect x="586.90" y="492.95" width="4.60" height="7.90" fill="#9da3a2"/><rect x="536.50" y="504.40" width="4.60" height="7.90" fill="#9da3a2"/><rect x="542.10" y="504.15" width="4.60" height="7.90" fill="#9da3a2"/><rect x="547.70" y="503.90" width="4.60" height="7.90" fill="#9da3a2"/><rect x="553.30" y="503.65" width="4.60" height="7.90" fill="#9da3a2"/><rect x="558.90" y="503.40" width="4.60" height="7.90" fill="#9da3a2"/><rect x="564.50" y="503.15" width="4.60" height="7.90" fill="#9da3a2"/><rect x="570.10" y="502.90" width="4.60" height="7.90" fill="#9da3a2"/><rect x="575.70" y="502.65" width="4.60" height="7.90" fill="#9da3a2"/><rect x="581.30" y="502.40" width="4.60" height="7.90" fill="#9da3a2"/><rect x="586.90" y="502.15" width="4.60" height="7.90" fill="#9da3a2"/><rect x="536.50" y="513.60" width="4.60" height="7.90" fill="#9da3a2"/><rect x="542.10" y="513.35" width="4.60" height="7.90" fill="#9da3a2"/><rect x="547.70" y="513.10" width="4.60" height="7.90" fill="#9da3a2"/><rect x="553.30" y="512.85" width="4.60" height="7.90" fill="#9da3a2"/><rect x="558.90" y="512.60" width="4.60" height="7.90" fill="#9da3a2"/><rect x="564.50" y="512.35" width="4.60" height="7.90" fill="#9da3a2"/><rect x="570.10" y="512.10" width="4.60" height="7.90" fill="#9da3a2"/><rect x="575.70" y="511.85" width="4.60" height="7.90" fill="#9da3a2"/><rect x="581.30" y="511.60" width="4.60" height="7.90" fill="#9da3a2"/><rect x="586.90" y="511.35" width="4.60" height="7.90" fill="#9da3a2"/><rect x="536.50" y="522.80" width="4.60" height="7.90" fill="#9da3a2"/><rect x="542.10" y="522.55" width="4.60" height="7.90" fill="#9da3a2"/><rect x="547.70" y="522.30" width="4.60" height="7.90" fill="#9da3a2"/><rect x="553.30" y="522.05" width="4.60" height="7.90" fill="#9da3a2"/><rect x="558.90" y="521.80" width="4.60" height="7.90" fill="#9da3a2"/><rect x="564.50" y="521.55" width="4.60" height="7.90" fill="#9da3a2"/><rect x="570.10" y="521.30" width="4.60" height="7.90" fill="#9da3a2"/><rect x="575.70" y="521.05" width="4.60" height="7.90" fill="#9da3a2"/><rect x="581.30" y="520.80" width="4.60" height="7.90" fill="#9da3a2"/><rect x="586.90" y="520.55" width="4.60" height="7.90" fill="#9da3a2"/><path d="M536.50 447.90V440.00H541.10M542.10 447.65V439.75H546.70M547.70 447.40V439.50H552.30M553.30 447.15V439.25H557.90M558.90 446.90V439.00H563.50M564.50 446.65V438.75H569.10M570.10 446.40V438.50H574.70M575.70 446.15V438.25H580.30M581.30 445.90V438.00H585.90M586.90 445.65V437.75H591.50M536.50 457.10V449.20H541.10M542.10 456.85V448.95H546.70M547.70 456.60V448.70H552.30M553.30 456.35V448.45H557.90M558.90 456.10V448.20H563.50M564.50 455.85V447.95H569.10M570.10 455.60V447.70H574.70M575.70 455.35V447.45H580.30M581.30 455.10V447.20H585.90M586.90 454.85V446.95H591.50M536.50 466.30V458.40H541.10M542.10 466.05V458.15H546.70M547.70 465.80V457.90H552.30M553.30 465.55V457.65H557.90M558.90 465.30V457.40H563.50M564.50 465.05V457.15H569.10M570.10 464.80V456.90H574.70M575.70 464.55V456.65H580.30M581.30 464.30V456.40H585.90M586.90 464.05V456.15H591.50M536.50 475.50V467.60H541.10M542.10 475.25V467.35H546.70M547.70 475.00V467.10H552.30M553.30 474.75V466.85H557.90M558.90 474.50V466.60H563.50M564.50 474.25V466.35H569.10M570.10 474.00V466.10H574.70M575.70 473.75V465.85H580.30M581.30 473.50V465.60H585.90M586.90 473.25V465.35H591.50M536.50 484.70V476.80H541.10M542.10 484.45V476.55H546.70M547.70 484.20V476.30H552.30M553.30 483.95V476.05H557.90M558.90 483.70V475.80H563.50M564.50 483.45V475.55H569.10M570.10 483.20V475.30H574.70M575.70 482.95V475.05H580.30M581.30 482.70V474.80H585.90M586.90 482.45V474.55H591.50M536.50 493.90V486.00H541.10M542.10 493.65V485.75H546.70M547.70 493.40V485.50H552.30M553.30 493.15V485.25H557.90M558.90 492.90V485.00H563.50M564.50 492.65V484.75H569.10M570.10 492.40V484.50H574.70M575.70 492.15V484.25H580.30M581.30 491.90V484.00H585.90M586.90 491.65V483.75H591.50M536.50 503.10V495.20H541.10M542.10 502.85V494.95H546.70M547.70 502.60V494.70H552.30M553.30 502.35V494.45H557.90M558.90 502.10V494.20H563.50M564.50 501.85V493.95H569.10M570.10 501.60V493.70H574.70M575.70 501.35V493.45H580.30M581.30 501.10V493.20H585.90M586.90 500.85V492.95H591.50M536.50 512.30V504.40H541.10M542.10 512.05V504.15H546.70M547.70 511.80V503.90H552.30M553.30 511.55V503.65H557.90M558.90 511.30V503.40H563.50M564.50 511.05V503.15H569.10M570.10 510.80V502.90H574.70M575.70 510.55V502.65H580.30M581.30 510.30V502.40H585.90M586.90 510.05V502.15H591.50M536.50 521.50V513.60H541.10M542.10 521.25V513.35H546.70M547.70 521.00V513.10H552.30M553.30 520.75V512.85H557.90M558.90 520.50V512.60H563.50M564.50 520.25V512.35H569.10M570.10 520.00V512.10H574.70M575.70 519.75V511.85H580.30M581.30 519.50V511.60H585.90M586.90 519.25V511.35H591.50M536.50 530.70V522.80H541.10M542.10 530.45V522.55H546.70M547.70 530.20V522.30H552.30M553.30 529.95V522.05H557.90M558.90 529.70V521.80H563.50M564.50 529.45V521.55H569.10M570.10 529.20V521.30H574.70M575.70 528.95V521.05H580.30M581.30 528.70V520.80H585.90M586.90 528.45V520.55H591.50" stroke="#dde2e1" stroke-width="0.75" fill="none"/><path d="M534 541 L593.5 524.5 L594 528 L534 544.5Z" fill="#6f7574"/><path d="M536 536.5 L585 524.5" stroke="#1e2222" stroke-width="1.3"/><path d="M502 429.5 Q502 428.8 504 428.8 L534 429.5 L534.5 543.2 L502 537.6Z" fill="url(#gwFront)"/><path d="M502 537.6 L534.5 543.2" stroke="#6b706f" stroke-width="1.2"/><path d="M532.6 432 L532.6 542" stroke="#dde1e0" stroke-width="1"/><path d="M505 437.2 L528.6 437.2 L528.6 534.4" stroke="#596060" stroke-width="0.9" fill="none"/><path d="M511 431.5 V435.5 M514 431.5 V435.5 M517 431.5 V435.5 M520 431.5 V435.5" stroke="#8d9291" stroke-width="0.6"/><rect x="508.2" y="440" width="2" height="2" fill="#55e040"/><rect x="512.3" y="440" width="2" height="2" fill="#55e040"/><rect x="515.3" y="440" width="2" height="2" fill="#55e040"/><rect x="518.3" y="440" width="2" height="2" fill="#55e040"/><rect x="508.9" y="443.4" width="6.9" height="12.4" fill="#151515"/><rect x="508.9" y="458" width="6.9" height="11.6" fill="#151515"/><rect x="509.2" y="470" width="13.8" height="60.5" fill="#3a3a3a"/><rect x="509.2" y="470" width="3" height="60.5" fill="#1d1d1d"/><rect x="513.4" y="472.5" width="1.4" height="1.4" fill="#0f0f0f"/><rect x="517.2" y="472.5" width="1.4" height="1.4" fill="#0f0f0f"/><rect x="513.4" y="475.6" width="1.4" height="1.4" fill="#0f0f0f"/><rect x="517.2" y="475.6" width="1.4" height="1.4" fill="#0f0f0f"/><rect x="513.4" y="478.6" width="1.4" height="1.4" fill="#0f0f0f"/><rect x="517.2" y="478.6" width="1.4" height="1.4" fill="#0f0f0f"/><rect x="513.4" y="481.6" width="1.4" height="1.4" fill="#0f0f0f"/><rect x="517.2" y="481.6" width="1.4" height="1.4" fill="#0f0f0f"/><rect x="513.4" y="484.7" width="1.4" height="1.4" fill="#0f0f0f"/><rect x="517.2" y="484.7" width="1.4" height="1.4" fill="#0f0f0f"/><rect x="513.4" y="487.8" width="1.4" height="1.4" fill="#0f0f0f"/><rect x="517.2" y="487.8" width="1.4" height="1.4" fill="#0f0f0f"/><rect x="513.4" y="496.9" width="1.4" height="1.4" fill="#0f0f0f"/><rect x="517.2" y="496.9" width="1.4" height="1.4" fill="#0f0f0f"/><rect x="513.4" y="499.9" width="1.4" height="1.4" fill="#0f0f0f"/><rect x="517.2" y="499.9" width="1.4" height="1.4" fill="#0f0f0f"/><rect x="513.4" y="503.0" width="1.4" height="1.4" fill="#0f0f0f"/><rect x="517.2" y="503.0" width="1.4" height="1.4" fill="#0f0f0f"/><rect x="513.4" y="506.1" width="1.4" height="1.4" fill="#0f0f0f"/><rect x="517.2" y="506.1" width="1.4" height="1.4" fill="#0f0f0f"/><rect x="513.4" y="515.2" width="1.4" height="1.4" fill="#0f0f0f"/><rect x="517.2" y="515.2" width="1.4" height="1.4" fill="#0f0f0f"/><rect x="513.4" y="518.2" width="1.4" height="1.4" fill="#0f0f0f"/><rect x="517.2" y="518.2" width="1.4" height="1.4" fill="#0f0f0f"/><rect x="513.4" y="521.3" width="1.4" height="1.4" fill="#0f0f0f"/><rect x="517.2" y="521.3" width="1.4" height="1.4" fill="#0f0f0f"/><rect x="513.4" y="524.4" width="1.4" height="1.4" fill="#0f0f0f"/><rect x="517.2" y="524.4" width="1.4" height="1.4" fill="#0f0f0f"/><rect x="513.4" y="527.4" width="1.4" height="1.4" fill="#0f0f0f"/><rect x="517.2" y="527.4" width="1.4" height="1.4" fill="#0f0f0f"/><path d="M509.2 491 H523 M509.2 511 H523" stroke="#5a5a5a" stroke-width="0.7"/><defs>
<linearGradient id="pcChin" x1="0" y1="778" x2="0" y2="790.5" gradientUnits="userSpaceOnUse">
 <stop offset="0" stop-color="#dcdcde"/><stop offset="0.5" stop-color="#d3d3d5"/><stop offset="1" stop-color="#c9c9cc"/>
</linearGradient>
<linearGradient id="pcChinH" x1="287.6" y1="0" x2="415.6" y2="0" gradientUnits="userSpaceOnUse">
 <stop offset="0" stop-color="#ffffff" stop-opacity="0.25"/><stop offset="0.5" stop-color="#ffffff" stop-opacity="0"/><stop offset="1" stop-color="#ffffff" stop-opacity="0.3"/>
</linearGradient>
<linearGradient id="pcNeck" x1="0" y1="790" x2="0" y2="797" gradientUnits="userSpaceOnUse">
 <stop offset="0" stop-color="#a0a0a3"/><stop offset="0.4" stop-color="#b2b2b5"/><stop offset="1" stop-color="#a2a2a5"/>
</linearGradient>
<linearGradient id="pcBase" x1="0" y1="800" x2="0" y2="808" gradientUnits="userSpaceOnUse">
 <stop offset="0" stop-color="#d6d6d8"/><stop offset="1" stop-color="#9e9ea2"/>
</linearGradient>
</defs><path d="M332.5 807.8 L371.5 807.8 L367 803 L337 803Z" fill="#dedee0"/><rect x="332.5" y="807" width="39" height="0.9" fill="#c4c4c6"/><rect x="339.2" y="789.8" width="25.6" height="7.4" fill="url(#pcNeck)"/><rect x="338.6" y="797" width="26.8" height="3" fill="#e9e9ea"/><rect x="338.2" y="800" width="27.6" height="5" fill="#a9a9ac"/><path d="M287.6 777.5 L415.6 777.5 L415.6 788 Q415.6 790.5 413 790.5 L290.2 790.5 Q287.6 790.5 287.6 788Z" fill="url(#pcChin)"/><rect x="287.6" y="777.5" width="128" height="13" fill="url(#pcChinH)"/><path d="M290.5 701.8 L412.8 701.8 Q415.6 701.8 415.6 704.6 L415.6 778 L287.6 778 L287.6 704.6 Q287.6 701.8 290.5 701.8Z" fill="#0d0d0d"/><path d="M364.7 701.8 L412.8 701.8 Q415.6 701.8 415.6 704.6 L415.6 778 L405 778 Z" fill="#2b2b2b" opacity="0.6"/><rect x="293" y="707" width="118" height="66.8" fill="#ffffff"/><rect x="293" y="707" width="118" height="2.8" fill="#3a3f45"/><rect x="293" y="707" width="2.8" height="66.8" fill="#2c3237"/><rect x="295.8" y="709.8" width="17.9" height="1.9" fill="#2f8cf0"/><rect x="295.8" y="711.7" width="18.4" height="62.1" fill="#eef2fa"/><rect x="314.2" y="709.8" width="0.6" height="64" fill="#d8dde5"/><rect x="342.6" y="709.8" width="0.8" height="64" fill="#d0d4da"/><rect x="314.8" y="724.6999999999999" width="27.8" height="1.6" fill="#e6e8eb"/><rect x="314.8" y="739.6999999999999" width="27.8" height="1.6" fill="#e6e8eb"/><rect x="314.8" y="753.8" width="27.8" height="1.6" fill="#e6e8eb"/><rect x="314.8" y="768.9" width="27.8" height="1.6" fill="#e6e8eb"/><rect x="317.5" y="714.5" width="1.2" height="2.2" fill="#6b4444"/><rect x="320.5" y="714.5" width="5" height="0.9" fill="#888"/><rect x="320.5" y="715.8" width="6" height="0.6" fill="#bbb"/><rect x="333.5" y="714.5" width="4" height="0.9" fill="#56b870"/><rect x="333.5" y="715.8" width="8" height="0.6" fill="#c8c8c8"/><rect x="317.5" y="717.5" width="1.2" height="2.2" fill="#6b4444"/><rect x="320.5" y="717.5" width="6" height="0.9" fill="#888"/><rect x="320.5" y="718.8" width="9" height="0.6" fill="#bbb"/><rect x="333.5" y="717.5" width="4" height="0.9" fill="#56b870"/><rect x="333.5" y="718.8" width="8" height="0.6" fill="#c8c8c8"/><rect x="317.5" y="721.5" width="1.2" height="2.2" fill="#6b4444"/><rect x="320.5" y="721.5" width="8" height="0.9" fill="#888"/><rect x="320.5" y="722.8" width="6" height="0.6" fill="#bbb"/><rect x="333.5" y="721.5" width="4" height="0.9" fill="#56b870"/><rect x="333.5" y="722.8" width="8" height="0.6" fill="#c8c8c8"/><rect x="317.5" y="728.5" width="1.2" height="2.2" fill="#6b4444"/><rect x="320.5" y="728.5" width="8" height="0.9" fill="#888"/><rect x="320.5" y="729.8" width="6" height="0.6" fill="#bbb"/><rect x="333.5" y="728.5" width="4" height="0.9" fill="#56b870"/><rect x="333.5" y="729.8" width="8" height="0.6" fill="#c8c8c8"/><rect x="317.5" y="732" width="1.2" height="2.2" fill="#6b4444"/><rect x="320.5" y="732" width="6" height="0.9" fill="#888"/><rect x="320.5" y="733.3" width="9" height="0.6" fill="#bbb"/><rect x="333.5" y="732" width="4" height="0.9" fill="#56b870"/><rect x="333.5" y="733.3" width="8" height="0.6" fill="#c8c8c8"/><rect x="317.5" y="736.5" width="1.2" height="2.2" fill="#6b4444"/><rect x="320.5" y="736.5" width="8" height="0.9" fill="#888"/><rect x="320.5" y="737.8" width="6" height="0.6" fill="#bbb"/><rect x="333.5" y="736.5" width="4" height="0.9" fill="#56b870"/><rect x="333.5" y="737.8" width="8" height="0.6" fill="#c8c8c8"/><rect x="317.5" y="743.5" width="1.2" height="2.2" fill="#6b4444"/><rect x="320.5" y="743.5" width="5" height="0.9" fill="#888"/><rect x="320.5" y="744.8" width="9" height="0.6" fill="#bbb"/><rect x="333.5" y="743.5" width="4" height="0.9" fill="#56b870"/><rect x="333.5" y="744.8" width="8" height="0.6" fill="#c8c8c8"/><rect x="317.5" y="747" width="1.2" height="2.2" fill="#6b4444"/><rect x="320.5" y="747" width="8" height="0.9" fill="#888"/><rect x="320.5" y="748.3" width="9" height="0.6" fill="#bbb"/><rect x="333.5" y="747" width="4" height="0.9" fill="#56b870"/><rect x="333.5" y="748.3" width="8" height="0.6" fill="#c8c8c8"/><rect x="317.5" y="751" width="1.2" height="2.2" fill="#6b4444"/><rect x="320.5" y="751" width="6" height="0.9" fill="#888"/><rect x="320.5" y="752.3" width="6" height="0.6" fill="#bbb"/><rect x="333.5" y="751" width="4" height="0.9" fill="#56b870"/><rect x="333.5" y="752.3" width="8" height="0.6" fill="#c8c8c8"/><rect x="317.5" y="758" width="1.2" height="2.2" fill="#6b4444"/><rect x="320.5" y="758" width="5" height="0.9" fill="#888"/><rect x="320.5" y="759.3" width="6" height="0.6" fill="#bbb"/><rect x="333.5" y="758" width="4" height="0.9" fill="#56b870"/><rect x="333.5" y="759.3" width="8" height="0.6" fill="#c8c8c8"/><rect x="317.5" y="761.5" width="1.2" height="2.2" fill="#6b4444"/><rect x="320.5" y="761.5" width="8" height="0.9" fill="#888"/><rect x="320.5" y="762.8" width="9" height="0.6" fill="#bbb"/><rect x="333.5" y="761.5" width="4" height="0.9" fill="#56b870"/><rect x="333.5" y="762.8" width="8" height="0.6" fill="#c8c8c8"/><rect x="317.5" y="766" width="1.2" height="2.2" fill="#6b4444"/><rect x="320.5" y="766" width="8" height="0.9" fill="#888"/><rect x="320.5" y="767.3" width="6" height="0.6" fill="#bbb"/><rect x="333.5" y="766" width="4" height="0.9" fill="#56b870"/><rect x="333.5" y="767.3" width="8" height="0.6" fill="#c8c8c8"/><rect x="297.2" y="718.5" width="1.3" height="1.3" fill="#444"/><rect x="299.5" y="718.7" width="3" height="0.9" fill="#8a8a8a"/><rect x="297.2" y="721.5" width="1.3" height="1.3" fill="#3a7"/><rect x="299.5" y="721.7" width="3" height="0.9" fill="#8a8a8a"/><rect x="297.2" y="724" width="1.3" height="1.3" fill="#888"/><rect x="299.5" y="724.2" width="3" height="0.9" fill="#8a8a8a"/><rect x="297.2" y="726.5" width="1.3" height="1.3" fill="#888"/><rect x="299.5" y="726.7" width="9" height="0.9" fill="#8a8a8a"/><rect x="297.2" y="729" width="1.3" height="1.3" fill="#7a7"/><rect x="299.5" y="729.2" width="9" height="0.9" fill="#8a8a8a"/><rect x="297.2" y="731.5" width="1.3" height="1.3" fill="#444"/><rect x="299.5" y="731.7" width="9" height="0.9" fill="#8a8a8a"/><rect x="297.2" y="734" width="1.3" height="1.3" fill="#555"/><rect x="299.5" y="734.2" width="9" height="0.9" fill="#8a8a8a"/><rect x="297.2" y="736.5" width="1.3" height="1.3" fill="#3a7"/><rect x="299.5" y="736.7" width="5" height="0.9" fill="#8a8a8a"/><rect x="297.2" y="739" width="1.3" height="1.3" fill="#c33"/><rect x="299.5" y="739.2" width="3" height="0.9" fill="#8a8a8a"/><rect x="297.2" y="741.5" width="1.3" height="1.3" fill="#3a7"/><rect x="299.5" y="741.7" width="9" height="0.9" fill="#8a8a8a"/><rect x="297.2" y="744" width="1.3" height="1.3" fill="#3a7"/><rect x="299.5" y="744.2" width="5" height="0.9" fill="#8a8a8a"/><rect x="297.2" y="747" width="1.3" height="1.3" fill="#444"/><rect x="299.5" y="747.2" width="9" height="0.9" fill="#8a8a8a"/><rect x="297.2" y="749.5" width="1.3" height="1.3" fill="#444"/><rect x="299.5" y="749.7" width="5" height="0.9" fill="#8a8a8a"/><rect x="297.2" y="752" width="1.3" height="1.3" fill="#555"/><rect x="299.5" y="752.2" width="9" height="0.9" fill="#8a8a8a"/><rect x="297.2" y="755" width="1.3" height="1.3" fill="#7a7"/><rect x="299.5" y="755.2" width="5" height="0.9" fill="#8a8a8a"/><rect x="297.2" y="758" width="1.3" height="1.3" fill="#7a7"/><rect x="299.5" y="758.2" width="9" height="0.9" fill="#8a8a8a"/><rect x="297.2" y="761" width="1.3" height="1.3" fill="#7a7"/><rect x="299.5" y="761.2" width="4" height="0.9" fill="#8a8a8a"/><rect x="297.2" y="764" width="1.3" height="1.3" fill="#888"/><rect x="299.5" y="764.2" width="3" height="0.9" fill="#8a8a8a"/><rect x="297.2" y="767" width="1.3" height="1.3" fill="#888"/><rect x="299.5" y="767.2" width="4" height="0.9" fill="#8a8a8a"/><rect x="296.5" y="712.5" width="12" height="0.6" fill="#bcd"/><rect x="296.5" y="714" width="7" height="0.6" fill="#bcd"/><rect x="307" y="712" width="1" height="2.5" fill="#e66"/><rect x="310.5" y="712" width="2.5" height="3" fill="#4a8de0"/><rect x="297" y="771.5" width="4" height="1.5" fill="#7db8f0"/><rect x="307" y="771.5" width="6" height="1.5" fill="#7db8f0"/><rect x="343.4" y="709.8" width="67.6" height="1.6" fill="#f2f3f5"/><rect x="368.3" y="711.4" width="0.6" height="23.3" fill="#dfe3e8"/><rect x="343.4" y="734.6" width="67.6" height="1.2" fill="#e6e8ec"/><rect x="346" y="714.9" width="2" height="3.8" fill="#7a3f3f"/><rect x="351" y="715" width="3" height="0.8" fill="#5aa0f0"/><rect x="351" y="717" width="5" height="0.6" fill="#888"/><rect x="346" y="722.4" width="4" height="0.8" fill="#666"/><rect x="353" y="722.4" width="7" height="0.7" fill="#999"/><rect x="346" y="725.3" width="4" height="0.8" fill="#666"/><rect x="353" y="725.3" width="5" height="0.7" fill="#5b5"/><rect x="346" y="728.3" width="4" height="0.8" fill="#666"/><rect x="353" y="728.3" width="7" height="0.7" fill="#777"/><rect x="346" y="731.2" width="4" height="0.8" fill="#666"/><rect x="353" y="731.2" width="7" height="0.7" fill="#888"/><rect x="370" y="713" width="6" height="0.8" fill="#5aa0f0"/><rect x="390" y="713" width="17" height="0.7" fill="#999"/><rect x="371" y="714.8" width="37" height="1.2" fill="#eceef1"/><rect x="374" y="716.5" width="2.5" height="0.7" fill="#777"/><rect x="391" y="716.5" width="6.5" height="0.7" fill="#777"/><rect x="374" y="718.5" width="2.5" height="0.7" fill="#777"/><rect x="391" y="718.5" width="6.5" height="0.7" fill="#777"/><rect x="374" y="721" width="2.5" height="0.7" fill="#777"/><rect x="391" y="721" width="6.5" height="0.7" fill="#777"/><rect x="374" y="723" width="2.5" height="0.7" fill="#777"/><rect x="391" y="723" width="6.5" height="0.7" fill="#777"/><rect x="374" y="725" width="2.5" height="0.7" fill="#777"/><rect x="391" y="725" width="6.5" height="0.7" fill="#777"/><rect x="374" y="728" width="2.5" height="0.7" fill="#777"/><rect x="391" y="728" width="6.5" height="0.7" fill="#777"/><rect x="374" y="730.5" width="2.5" height="0.7" fill="#777"/><rect x="391" y="730.5" width="6.5" height="0.7" fill="#777"/><rect x="408.5" y="714" width="1" height="12" fill="#c8c8c8"/><rect x="373" y="732" width="33" height="1.1" fill="#e2e4e8"/><rect x="387.5" y="731.5" width="1.6" height="1.6" fill="#2f8cf0"/><rect x="346" y="736.5" width="3" height="1" fill="#ccc"/><rect x="390" y="736.3" width="14" height="1.2" fill="#d5d5d5"/><path d="M345.5 745.5 H407.5 M345.5 751.6 H407.5 M345.5 768.6 H407.5" stroke="#ececec" stroke-width="0.5"/><path d="M377.5 739.5 V769.5" stroke="#f0b8a8" stroke-width="0.5"/><path d="M349 750.5 Q355 756 361 753.5 Q366 751 373 746 L381 746 Q387 746 392 752 Q396 755 402 752.5 L406 750.5" stroke="#f2a57c" stroke-width="0.7" fill="none" stroke-dasharray="1.6 0.8"/><rect x="386.4" y="744" width="3.8" height="3" fill="#333"/><rect x="377" y="768.3" width="1.2" height="1.2" fill="#e55"/><rect x="347" y="771" width="62" height="2.4" fill="#c9d5e6"/><rect x="765.2" y="691.6" width="58.2" height="118.6" rx="7.5" fill="#5a5a5e"/><rect x="765.8" y="692.2" width="57" height="117.4" rx="7" fill="none" stroke="#9a9a9e" stroke-width="0.8"/><rect x="767.3" y="693.2" width="54" height="115.4" rx="6" fill="#1a1a1a"/><rect x="768.8" y="694.5" width="51" height="112.1" rx="5" fill="#ffffff"/><path d="M780.5 694.5 H808.9 Q808 699.6 804 699.6 H785 Q781.5 699.6 780.5 694.5Z" fill="#111"/><rect x="772" y="697.5" width="3" height="0.8" fill="#555"/><rect x="813" y="697.5" width="4" height="1" fill="#444"/><rect x="771.5" y="703.3" width="1.5" height="0.7" fill="#555"/><rect x="792" y="702.8" width="4.5" height="1.2" fill="#888"/><rect x="816.5" y="703.3" width="2" height="0.7" fill="#555"/><rect x="788" y="710.5" width="14" height="1" fill="#888"/><rect x="769.3" y="714.8" width="0.8" height="5.5" fill="#18a4b4"/><rect x="771" y="716.6" width="7" height="0.9" fill="#555"/><rect x="785" y="716.3" width="18" height="1.3" fill="#29a8bb"/><rect x="805" y="717.3" width="4" height="0.8" fill="#aaa"/><path d="M769 720.7 H820" stroke="#e3e3e3" stroke-width="0.6"/><path d="M786.3 721 V753.5 M803 721 V753.5" stroke="#ececec" stroke-width="0.5"/><rect x="771" y="724.3" width="2.2" height="1" fill="#6aa0f0"/><rect x="774" y="724.3" width="7.5" height="0.9" fill="#777"/><rect x="788" y="724.3" width="2.2" height="1" fill="#6aa0f0"/><rect x="791" y="724.3" width="7.5" height="0.9" fill="#777"/><rect x="804.5" y="724.3" width="2.2" height="1" fill="#6aa0f0"/><rect x="807.5" y="724.3" width="7.5" height="0.9" fill="#777"/><rect x="771" y="728.8" width="2.2" height="1" fill="#f0b050"/><rect x="774" y="728.8" width="7.5" height="0.9" fill="#777"/><rect x="788" y="728.8" width="2.2" height="1" fill="#f0b050"/><rect x="791" y="728.8" width="7.5" height="0.9" fill="#777"/><rect x="804.5" y="728.8" width="2.2" height="1" fill="#f0b050"/><rect x="807.5" y="728.8" width="7.5" height="0.9" fill="#777"/><rect x="771" y="733.3" width="2.2" height="1" fill="#50b070"/><rect x="774" y="733.3" width="7.5" height="0.9" fill="#777"/><rect x="788" y="733.3" width="2.2" height="1" fill="#50b070"/><rect x="791" y="733.3" width="7.5" height="0.9" fill="#777"/><rect x="804.5" y="733.3" width="2.2" height="1" fill="#50b070"/><rect x="807.5" y="733.3" width="7.5" height="0.9" fill="#777"/><path d="M769 737.4 H820 M769 745.4 H820" stroke="#e6e6e6" stroke-width="0.5"/><rect x="771" y="741.3" width="8" height="0.9" fill="#888"/><rect x="771" y="748.7" width="7" height="0.9" fill="#888"/><rect x="788" y="741.3" width="8" height="0.9" fill="#888"/><rect x="788" y="748.7" width="7" height="0.9" fill="#888"/><rect x="804.5" y="741.3" width="8" height="0.9" fill="#888"/><rect x="804.5" y="748.7" width="7" height="0.9" fill="#888"/><rect x="783.5" y="741" width="1.6" height="1.6" fill="#2aa0c8"/><rect x="768.8" y="753.4" width="51" height="2" fill="#efefef"/><rect x="769.6" y="756" width="12.4" height="4" fill="#27a7b8"/><rect x="773" y="757.6" width="5" height="0.8" fill="#dff"/><rect x="806.7" y="757" width="2.9" height="2.3" fill="#3db0c0"/><rect x="811" y="757.7" width="5" height="0.9" fill="#aaa"/><rect x="769.5" y="761.5" width="22" height="0.7" fill="#c5c5c5"/><rect x="770" y="767" width="4" height="0.8" fill="#999"/><rect x="770" y="778.6" width="3" height="0.8" fill="#999"/><rect x="770" y="790" width="3" height="0.8" fill="#999"/><rect x="770" y="801" width="3" height="0.8" fill="#999"/><path d="M775 779 H819 M775 790 H819" stroke="#e3e3e3" stroke-width="0.5"/><rect x="777.85" y="783.3" width="0.9" height="18.2" fill="#8fd0d9"/><rect x="782.05" y="775.3" width="1.3" height="26.2" fill="#1aa3b5"/><rect x="784.95" y="784" width="1.3" height="17.5" fill="#1aa3b5"/><rect x="787.85" y="772.1" width="1.3" height="29.4" fill="#1aa3b5"/><rect x="790.95" y="785.5" width="0.9" height="16.0" fill="#8fd0d9"/><rect x="795.05" y="773.8" width="0.9" height="27.7" fill="#8fd0d9"/><rect x="797.95" y="770.9" width="0.9" height="30.6" fill="#8fd0d9"/><rect x="800.95" y="775" width="1.3" height="26.5" fill="#1aa3b5"/><rect x="804.55" y="785.2" width="1.3" height="16.3" fill="#1aa3b5"/><rect x="807.95" y="773.8" width="1.3" height="27.7" fill="#1aa3b5"/><rect x="811.35" y="775.3" width="0.9" height="26.2" fill="#8fd0d9"/><rect x="814.95" y="773.8" width="0.9" height="27.7" fill="#8fd0d9"/><rect x="794.3" y="766.3" width="8" height="3.2" rx="1" fill="#8a8a9a"/><rect x="786" y="804.6" width="16" height="0.8" fill="#444"/>
</svg>
<div class="t" style="left:503px;top:49.5px;font-size:37px;font-weight:700;letter-spacing:2.9px;color:#333;-webkit-text-stroke:0.6px #333">系统组成</div>
<div class="t lab" style="left:54px;top:203.5px;color:#4b9e7d;-webkit-text-stroke:0.35px #4b9e7d">感知层</div>
<div class="t lab" style="left:54px;top:473px;color:#2f7dcb;-webkit-text-stroke:0.35px #2f7dcb">网络层</div>
<div class="t lab" style="left:54px;top:744px;color:#dd7e50;-webkit-text-stroke:0.35px #dd7e50">数据层</div>
<div class="t it" style="left:342px;top:254px">流量计</div>
<div class="t it" style="left:521px;top:254.5px">雨量计</div>
<div class="t it" style="left:700px;top:254.5px">液位计</div>
<div class="t it" style="left:879.5px;top:254px">摄像头</div>
<div class="t it" style="left:611.5px;top:477px">无线4G/边缘计算网关</div>
<div class="t it" style="left:430px;top:746px">PC端</div>
<div class="t it" style="left:834.5px;top:746.5px">手机小程序/APP/公众号</div>
</body></html>
